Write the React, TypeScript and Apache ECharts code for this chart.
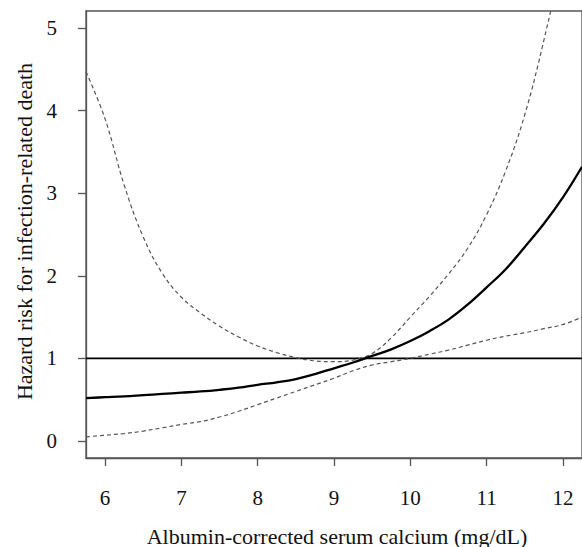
import React, { useEffect, useRef } from "react";
import * as echarts from "echarts";

// Albumin-corrected serum calcium (mg/dL)
const xValues = [5.75, 6, 6.25, 6.5, 6.75, 7, 7.25, 7.5, 7.75, 8, 8.25, 8.5, 8.75, 9, 9.25, 9.5, 9.75, 10, 10.25, 10.5, 10.75, 11, 11.25, 11.5, 11.75, 12, 12.25];
// Hazard ratio estimate
const hazard = [0.52, 0.53, 0.54, 0.555, 0.57, 0.585, 0.6, 0.62, 0.645, 0.68, 0.71, 0.75, 0.81, 0.88, 0.95, 1.03, 1.11, 1.21, 1.33, 1.47, 1.65, 1.86, 2.08, 2.35, 2.63, 2.95, 3.32];
// Upper confidence bound
const upperCI = [4.47, 3.9, 3.1, 2.47, 2.03, 1.74, 1.55, 1.39, 1.26, 1.15, 1.07, 1.01, 0.97, 0.96, 0.98, 1.06, 1.25, 1.5, 1.75, 2.02, 2.33, 2.74, 3.27, 3.95, 4.85, 5.9, 7.1];
// Lower confidence bound
const lowerCI = [0.05, 0.07, 0.09, 0.12, 0.16, 0.2, 0.235, 0.29, 0.36, 0.44, 0.52, 0.6, 0.68, 0.76, 0.85, 0.92, 0.96, 1.0, 1.05, 1.1, 1.16, 1.22, 1.27, 1.31, 1.36, 1.41, 1.5];
// Reference line
const refValue = 1;

const xTicks = [6, 7, 8, 9, 10, 11, 12];
const yTicks = [0, 1, 2, 3, 4, 5];
const xMin = 5.75;
const xMax = 12.25;
const yMin = -0.206;
const yMax = 5.206;

const xTitle = "Albumin-corrected serum calcium (mg/dL)";
const yTitle = "Hazard risk for infection-related death";

const FONT = "Liberation Serif";

const zip = (ys: number[]) => xValues.map((x, i) => [x, ys[i]]);

export default function App() {
  const ref = useRef<HTMLDivElement>(null);
  useEffect(() => {
    if (!ref.current) return;
    const chart = echarts.init(ref.current, null, { renderer: "svg" });
    const axisColor = "#555";
    const labelStyle = { fontFamily: FONT, fontSize: 21, color: "#111" };
    chart.setOption({
      animation: false,
      backgroundColor: "#fff",
      textStyle: { fontFamily: FONT },
      grid: {
        left: 86,
        top: 11,
        width: 501.6,
        height: 447,
        show: true,
        borderColor: axisColor,
        borderWidth: 1.3,
      },
      xAxis: {
        type: "value",
        min: xMin,
        max: xMax,
        axisLine: { show: true, onZero: false, lineStyle: { color: axisColor, width: 1.3 } },
        axisTick: { show: true, inside: false, length: 8, customValues: xTicks, lineStyle: { color: axisColor, width: 1.3 } },
        axisLabel: { customValues: xTicks, margin: 40, verticalAlign: "middle", ...labelStyle },
        splitLine: { show: false },
      },
      yAxis: {
        type: "value",
        min: yMin,
        max: yMax,
        axisLine: { show: true, onZero: false, lineStyle: { color: axisColor, width: 1.3 } },
        axisTick: { show: true, inside: false, length: 8, customValues: yTicks, lineStyle: { color: axisColor, width: 1.3 } },
        axisLabel: { customValues: yTicks, margin: 29, ...labelStyle },
        splitLine: { show: false },
      },
      graphic: [
        {
          type: "text",
          x: 337,
          y: 536,
          style: { text: xTitle, fontFamily: FONT, fontSize: 22, fill: "#111", align: "center", verticalAlign: "middle" },
        },
        {
          type: "text",
          x: 24.5,
          y: 231.5,
          rotation: Math.PI / 2,
          style: { text: yTitle, fontFamily: FONT, fontSize: 22, fill: "#111", align: "center", verticalAlign: "middle" },
        },
      ],
      series: [
        {
          type: "line",
          name: "ref",
          data: [[xMin, refValue], [xMax, refValue]],
          showSymbol: false,
          symbol: "none",
          lineStyle: { color: "#000", width: 1.6 },
          silent: true,
        },
        {
          type: "line",
          name: "upper",
          data: zip(upperCI),
          showSymbol: false,
          symbol: "none",
          smooth: 0.4,
          clip: true,
          lineStyle: { color: "#555", width: 1.2, type: [4, 3] },
          silent: true,
        },
        {
          type: "line",
          name: "lower",
          data: zip(lowerCI),
          showSymbol: false,
          symbol: "none",
          smooth: 0.4,
          clip: true,
          lineStyle: { color: "#555", width: 1.2, type: [4, 3] },
          silent: true,
        },
        {
          type: "line",
          name: "hazard",
          data: zip(hazard),
          showSymbol: false,
          symbol: "none",
          smooth: 0.4,
          clip: true,
          lineStyle: { color: "#000", width: 2.3 },
          silent: true,
        },
      ],
    });
    return () => chart.dispose();
  }, []);
  return (
    <div
      ref={ref}
      style={{ position: "fixed", left: 0, top: 0, width: 582, height: 547, background: "#fff" }}
    />
  );
}
